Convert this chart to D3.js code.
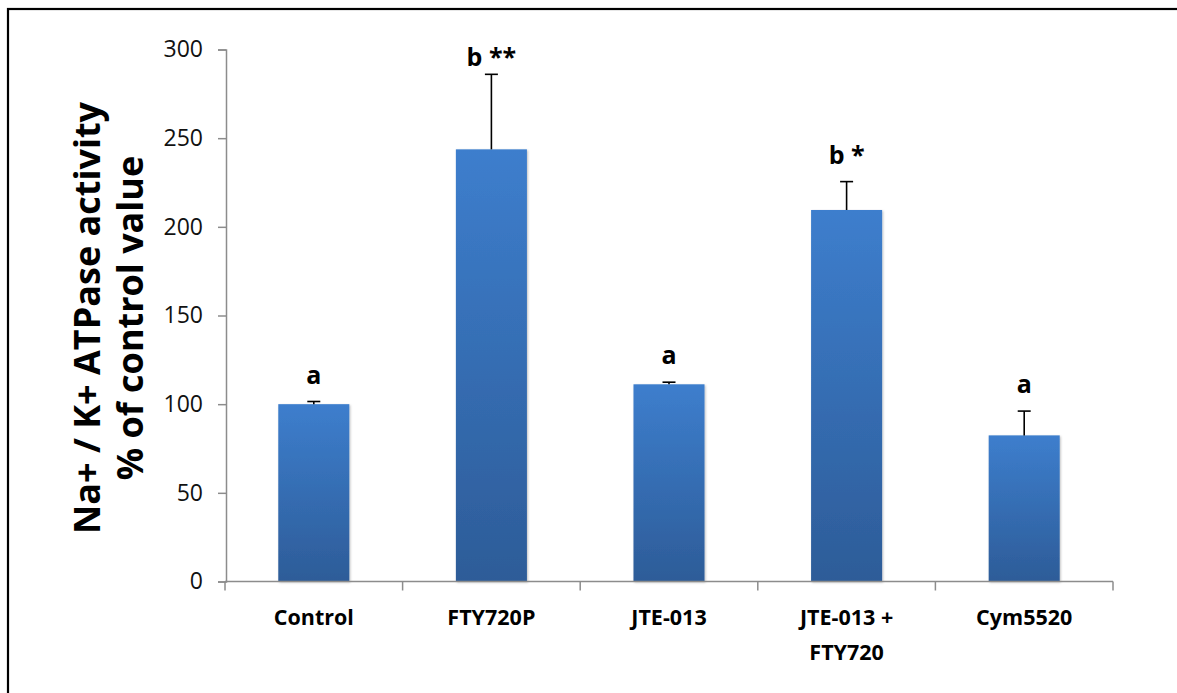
<!DOCTYPE html>
<html>
<head>
<meta charset="utf-8">
<script src="https://cdn.jsdelivr.net/npm/d3@7"></script>
<style>
  html, body { margin: 0; padding: 0; background: #fff; }
  svg { display: block; }
</style>
</head>
<body>
<svg id="chart" width="1177" height="693"></svg>
<script>
// Treatment groups (x-axis labels; "\n" breaks a label onto two lines)
const categories = ["Control", "FTY720P", "JTE-013", "JTE-013 +\nFTY720", "Cym5520"];
// Mean Na+/K+ ATPase activity, % of control
const means = [100, 243.7, 111.2, 209.5, 82.4];
// Upper error (mean + SEM)
const errorTops = [101.5, 286, 112.4, 225.5, 96.1];
// Significance letters above each bar
const sigLabels = ["a", "b **", "a", "b *", "a"];
// Y-axis ticks
const yTicks = [0, 50, 100, 150, 200, 250, 300];

const svg = d3.select("#chart");

// outer frame
svg.append("rect")
  .attr("x", 8).attr("y", 9)
  .attr("width", 1200).attr("height", 720)
  .attr("fill", "none").attr("stroke", "#000").attr("stroke-width", 2.2);

const plotLeft = 225, plotRight = 1113, plotTop = 49.5, plotBottom = 581.5;

const x = d3.scaleBand().domain(categories).range([plotLeft, plotRight])
  .paddingInner(0.6).paddingOuter(0.3);
const y = d3.scaleLinear().domain([0, 300]).range([plotBottom, plotTop]);

// bar gradient
const defs = svg.append("defs");
const grad = defs.append("linearGradient").attr("id", "barGrad")
  .attr("x1", 0).attr("y1", 0).attr("x2", 0).attr("y2", 1);
grad.append("stop").attr("offset", "0%").attr("stop-color", "#3d7ecd");
grad.append("stop").attr("offset", "100%").attr("stop-color", "#2d5c98");

const filt = defs.append("filter").attr("id", "shadow")
  .attr("x", "-10%").attr("y", "-10%").attr("width", "130%").attr("height", "130%");
filt.append("feDropShadow").attr("dx", 1).attr("dy", 1).attr("stdDeviation", 1.2)
  .attr("flood-color", "#000").attr("flood-opacity", 0.25);

// bars
svg.append("g").selectAll("rect")
  .data(categories)
  .join("rect")
  .attr("x", d => x(d))
  .attr("y", (d, i) => y(means[i]))
  .attr("width", x.bandwidth())
  .attr("height", (d, i) => y(0) - y(means[i]))
  .attr("fill", "url(#barGrad)")
  .attr("filter", "url(#shadow)");

// error bars (upper only)
const eb = svg.append("g").attr("stroke", "#000").attr("stroke-width", 1.6);
categories.forEach((c, i) => {
  const cx = x(c) + x.bandwidth() / 2;
  eb.append("line").attr("x1", cx).attr("x2", cx)
    .attr("y1", y(means[i])).attr("y2", y(errorTops[i]));
  eb.append("line").attr("x1", cx - 6.5).attr("x2", cx + 6.5)
    .attr("y1", y(errorTops[i])).attr("y2", y(errorTops[i]));
});

// significance letters, kept inside the top of the plot area
svg.append("g").selectAll("text")
  .data(categories)
  .join("text")
  .attr("x", d => x(d) + x.bandwidth() / 2)
  .attr("y", (d, i) => Math.max(y(errorTops[i]) - 18, plotTop + 16))
  .attr("text-anchor", "middle")
  .attr("font-family", "'Open Sans', 'DejaVu Sans', sans-serif")
  .attr("font-weight", "bold")
  .attr("font-size", 25)
  .attr("fill", "#000")
  .text((d, i) => sigLabels[i]);

// y axis
const yAxis = svg.append("g").attr("transform", `translate(${plotLeft + 1},0)`)
  .call(d3.axisLeft(y).tickValues(yTicks).tickSize(8).tickPadding(15));
yAxis.select(".domain").attr("stroke", "#8c8c8c").attr("stroke-width", 1.5);
yAxis.selectAll(".tick line").attr("stroke", "#8c8c8c").attr("stroke-width", 1.5);
yAxis.selectAll(".tick text")
  .attr("font-family", "'Open Sans', 'Liberation Sans', sans-serif")
  .attr("font-size", 23).attr("fill", "#111");

// x axis line and tick marks at band boundaries
const xg = svg.append("g");
xg.append("line").attr("x1", plotLeft).attr("x2", plotRight)
  .attr("y1", plotBottom).attr("y2", plotBottom)
  .attr("stroke", "#8c8c8c").attr("stroke-width", 1.5);
const boundaries = d3.range(categories.length + 1)
  .map(i => plotLeft + i * (plotRight - plotLeft) / categories.length);
xg.selectAll("line.tk").data(boundaries).join("line").attr("class", "tk")
  .attr("x1", d => d).attr("x2", d => d)
  .attr("y1", plotBottom).attr("y2", plotBottom + 9)
  .attr("stroke", "#8c8c8c").attr("stroke-width", 1.5);

// category labels
const lbl = xg.selectAll("text.cat").data(categories).join("text").attr("class", "cat")
  .attr("text-anchor", "middle")
  .attr("font-family", "'Open Sans', 'Liberation Sans', sans-serif")
  .attr("font-weight", "bold")
  .attr("font-size", 21.5)
  .attr("fill", "#000")
  .attr("transform", d => `translate(${x(d) + x.bandwidth() / 2},625)`);
lbl.each(function(d) {
  const t = d3.select(this);
  d.split("\n").forEach((line, k) => {
    t.append("tspan").attr("x", 0).attr("y", k * 35).text(line);
  });
});

// y-axis title
const title = svg.append("text")
  .attr("transform", "translate(0,318) rotate(-90)")
  .attr("text-anchor", "middle")
  .attr("font-family", "'Open Sans', 'Liberation Sans', sans-serif")
  .attr("font-weight", "bold")
  .attr("font-size", 36)
  .attr("fill", "#000");
title.append("tspan").attr("x", 0).attr("y", 100).text("Na+ / K+ ATPase activity");
title.append("tspan").attr("x", 0).attr("y", 143).text("% of control value");
</script>
</body>
</html>
